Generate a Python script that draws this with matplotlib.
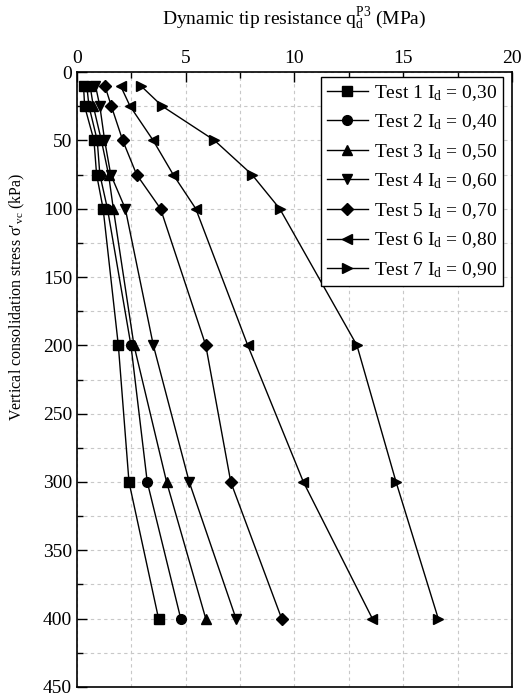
import numpy as np
import matplotlib
matplotlib.use("Agg")
import matplotlib.pyplot as plt
from matplotlib.ticker import MultipleLocator

plt.rcParams['font.family'] = ['Liberation Serif', 'DejaVu Serif']
plt.rcParams['mathtext.fontset'] = 'custom'
plt.rcParams['mathtext.rm'] = 'Liberation Serif'
plt.rcParams['mathtext.it'] = 'Liberation Serif:italic'

# stress levels (kPa)
stress = [10, 25, 50, 75, 100, 200, 300, 400]

# dynamic tip resistance (MPa) for each test
test1 = [0.30, 0.35, 0.78, 0.90, 1.20, 1.90, 2.39, 3.75]
test2 = [0.45, 0.55, 0.93, 1.05, 1.40, 2.48, 3.23, 4.77]
test3 = [0.60, 0.75, 1.12, 1.45, 1.67, 2.62, 4.12, 5.92]
test4 = [0.85, 1.05, 1.27, 1.55, 2.22, 3.51, 5.16, 7.31]
test5 = [1.28, 1.58, 2.10, 2.74, 3.84, 5.92, 7.07, 9.41]
test6 = [2.00, 2.44, 3.50, 4.42, 5.46, 7.85, 10.41, 13.58]
test7 = [2.93, 3.92, 6.32, 8.04, 9.32, 12.87, 14.67, 16.61]

series = [test1, test2, test3, test4, test5, test6, test7]
labels = ['Test 1 $\\mathrm{I_d}$ = 0,30', 'Test 2 $\\mathrm{I_d}$ = 0,40',
          'Test 3 $\\mathrm{I_d}$ = 0,50', 'Test 4 $\\mathrm{I_d}$ = 0,60',
          'Test 5 $\\mathrm{I_d}$ = 0,70', 'Test 6 $\\mathrm{I_d}$ = 0,80',
          'Test 7 $\\mathrm{I_d}$ = 0,90']
markers = ['s', 'o', '^', 'v', 'D', '<', '>']

fig = plt.figure(figsize=(5.30, 6.98), dpi=100)
ax = fig.add_axes([0.1453, 0.0158, 0.8207, 0.881])

for vals, lab, m in zip(series, labels, markers):
    ms = 6 if m == 'D' else 7
    ax.plot(vals, stress, color='black', linewidth=1.0, marker=m,
            markersize=ms, label=lab)

ax.set_xlim(0, 20)
ax.set_ylim(450, 0)
ax.xaxis.set_major_locator(MultipleLocator(5))
ax.xaxis.set_minor_locator(MultipleLocator(2.5))
ax.yaxis.set_major_locator(MultipleLocator(50))
ax.yaxis.set_minor_locator(MultipleLocator(25))

ax.xaxis.tick_top()
ax.xaxis.set_label_position('top')
ax.tick_params(which='both', direction='in', top=True, bottom=False,
               right=False, left=True, labelsize=14, width=1.0)
ax.tick_params(which='major', length=7)
ax.tick_params(which='minor', length=4)

ax.grid(which='both', color='#c8c8c8', linestyle=(0, (3, 3)), linewidth=0.8)
ax.set_axisbelow(True)

for sp in ax.spines.values():
    sp.set_linewidth(1.2)

ax.set_xlabel('Dynamic tip resistance $\\mathrm{q_d^{P3}}$ (MPa)', fontsize=14,
              labelpad=19)
ax.set_ylabel('Vertical consolidation stress σ′$_\\mathrm{vc}$ (kPa)', fontsize=11.5)
ax.yaxis.set_label_coords(-0.115, 0.635)

leg = ax.legend(loc='upper right', bbox_to_anchor=(0.98, 0.992), fontsize=14,
                frameon=True, fancybox=False, edgecolor='black', framealpha=1,
                borderaxespad=0.0, handlelength=2.1, handletextpad=0.35,
                labelspacing=0.5, borderpad=0.3)
leg.get_frame().set_linewidth(1.0)

fig.savefig('out.png', dpi=100)
